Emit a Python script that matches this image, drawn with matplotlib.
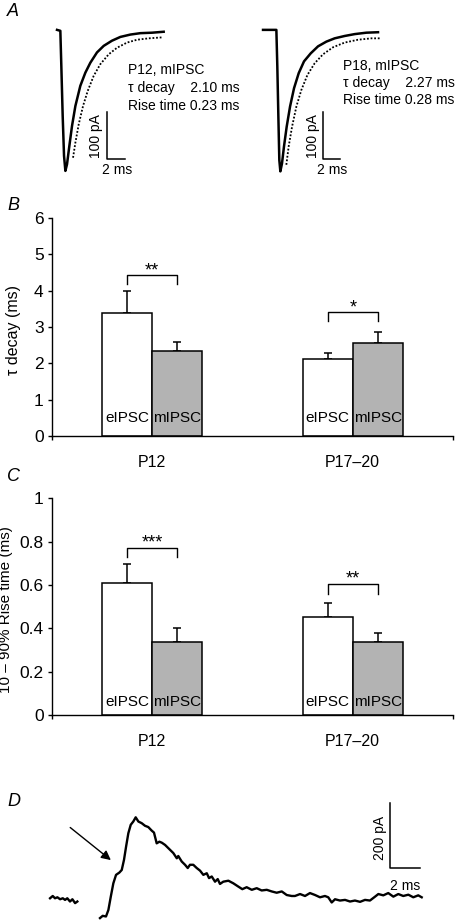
import matplotlib
matplotlib.use("Agg")
import matplotlib.pyplot as plt

plt.rcParams['font.family'] = ['Liberation Sans', 'DejaVu Sans']

W, H = 458, 922

# ---- panel A: averaged mIPSC traces (ms, pA), solid = mIPSC, dotted = eIPSC
p12_t = [0, 0.37, 0.48, 0.63, 0.78, 0.93, 1.11, 1.37, 1.67, 2.04, 2.59, 3.15,
         3.70, 4.44, 5.19, 6.11, 7.04, 8.15, 9.26, 10.56, 11.85]
p12_i = [0, -2, -77, -183, -268, -300, -286, -247, -204, -162, -119, -91,
         -70, -48, -34, -23, -15, -10, -7, -6, -4]
p12_dot_t = [1.78, 2.04, 2.41, 2.89, 3.41, 4.07, 4.81, 5.74, 6.67, 7.78, 8.89, 10.19, 11.67]
p12_dot_i = [-272, -240, -201, -162, -130, -98, -73, -52, -38, -27, -21, -18, -16]

p18_t = [0, 1.54, 1.65, 1.77, 1.88, 2.0, 2.19, 2.42, 2.73, 3.12, 3.58, 4.12,
         4.73, 5.5, 6.35, 7.31, 8.27, 9.42, 10.58, 11.92, 13.27]
p18_i = [0, 0, -78, -184, -277, -301, -284, -248, -206, -163, -124, -92,
         -67, -50, -35, -25, -18, -13, -9, -6, -5]
p18_dot_t = [2.69, 2.96, 3.35, 3.85, 4.42, 5.12, 5.96, 6.92, 8.08, 9.42, 10.96, 12.5, 13.65]
p18_dot_i = [-287, -248, -206, -163, -128, -96, -71, -52, -37, -27, -21, -18, -18]

p12_info = ["P12, mIPSC", "\u03c4 decay    2.10 ms", "Rise time 0.23 ms"]
p18_info = ["P18, mIPSC", "\u03c4 decay    2.27 ms", "Rise time 0.28 ms"]

# ---- panels B and C: bar data
groups = ["P12", "P17\u201320"]
decay_e = [3.38, 2.12]
decay_e_err = [0.62, 0.16]
decay_m = [2.35, 2.57]
decay_m_err = [0.25, 0.29]
decay_sig = ["**", "*"]
decay_sig_y = [4.43, 3.40]

rise_e = [0.61, 0.45]
rise_e_err = [0.085, 0.066]
rise_m = [0.337, 0.337]
rise_m_err = [0.063, 0.04]
rise_sig = ["***", "**"]
rise_sig_y = [0.772, 0.605]

# ---- panel D: single eIPSC trace (ms, pA)
d_t1 = [0.00, 0.18, 0.33, 0.49, 0.67, 0.85, 1.00, 1.15, 1.33, 1.49, 1.67, 1.82]
d_i1 = [5, 12, 5, 8, 2, 5, 0, 5, -5, 2, -10, -5]
d_t2 = [3.33, 3.51, 3.73, 3.89, 4.05, 4.22, 4.40, 4.62, 4.78, 4.93, 5.07, 5.22,
        5.38, 5.55, 5.71, 5.89, 6.11, 6.33, 6.55, 6.78, 6.93, 7.11, 7.29, 7.45,
        7.67, 7.89, 8.22, 8.45, 8.55, 8.78, 9.00, 9.18, 9.33, 9.55, 9.78, 10.00,
        10.22, 10.45, 10.60, 10.78, 11.00, 11.18, 11.33, 11.55, 11.89, 12.22, 12.55,
        12.82, 13.11, 13.45, 13.78, 14.11, 14.45, 14.78, 15.11, 15.45, 15.78, 16.11,
        16.33, 16.67, 17.00, 17.33, 17.67, 18.00, 18.33, 18.55, 18.78, 19.00, 19.33,
        19.67, 20.00, 20.33, 20.67, 21.00, 21.33, 21.67, 21.89, 22.22, 22.55, 22.89,
        23.22, 23.55, 23.89, 24.22, 24.55, 24.78]
d_i2 = [-56, -49, -51, -31, 10, 51, 77, 84, 92, 123, 164, 205,
        231, 241, 254, 241, 236, 228, 224, 213, 207, 174, 179, 176,
        169, 159, 144, 128, 135, 118, 108, 98, 108, 108, 98, 90,
        77, 82, 67, 72, 56, 64, 49, 56, 59, 51, 41,
        33, 39, 31, 36, 29, 31, 26, 22, 26, 15, 12,
        12, 18, 12, 21, 15, 8, 12, 8, -8, 2, -2,
        0, -5, -2, -6, 0, -2, 10, 18, 14, 21, 10,
        18, 12, 16, 8, 14, 8]


def rect(x0, y0, x1, y1):
    return [x0 / W, 1 - y1 / H, (x1 - x0) / W, (y1 - y0) / H]


fig = plt.figure(figsize=(W / 100, H / 100), dpi=100)


def trace_panel(box, xlim, t, i, dt, di, info, bar_x, text_x, text_y):
    ax = fig.add_axes(rect(*box))
    ax.plot(t, i, color='black', lw=1.8)
    ax.plot(dt, di, color='black', lw=1.3, ls=(0, (1, 1)))
    # scale bar 100 pA / 2 ms
    ax.plot([bar_x, bar_x, bar_x + 2], [-175, -275, -275], color='black', lw=1.1)
    ax.text(bar_x - 1.2, -225, "100 pA", rotation=90, ha='center', va='center', fontsize=10)
    ax.text(bar_x + 1.1, -299, "2 ms", ha='center', va='center', fontsize=10)
    for k, s in enumerate(info):
        ax.text(text_x, text_y[k], s, ha='left', va='center', fontsize=10)
    ax.set_xlim(xlim)
    ax.set_ylim(-330, 21)
    ax.axis('off')


trace_panel((40, 20, 240, 185), (-1.89, 20.33), p12_t, p12_i, p12_dot_t, p12_dot_i,
            p12_info, 5.56, 7.89, [-86, -123, -161])
trace_panel((245, 20, 445, 185), (-2.08, 21.0), p18_t, p18_i, p18_dot_t, p18_dot_i,
            p18_info, 6.92, 9.23, [-76, -113, -149])


def bar_panel(box, e, e_err, m, m_err, sig, sig_y, leg, ylim, yticks, yticklabels,
              ylabel, lab_y, ylab_x, ylab_y, ylab_size):
    ax = fig.add_axes(rect(*box))
    xc = [1, 3]
    xe = [x - 0.25 for x in xc]
    xm = [x + 0.25 for x in xc]
    ax.bar(xe, e, width=0.5, color='white', edgecolor='black', lw=1.1, zorder=2)
    ax.bar(xm, m, width=0.5, color='#b3b3b3', edgecolor='black', lw=1.1, zorder=2)
    ax.errorbar(xe, e, yerr=[[0, 0], e_err], fmt='none', ecolor='black', elinewidth=1.1,
                capsize=3, capthick=1.1, zorder=1)
    ax.errorbar(xm, m, yerr=[[0, 0], m_err], fmt='none', ecolor='black', elinewidth=1.1,
                capsize=3, capthick=1.1, zorder=1)
    for k in range(2):
        ax.plot([xe[k], xe[k], xm[k], xm[k]],
                [sig_y[k] - leg, sig_y[k], sig_y[k], sig_y[k] - leg], color='black', lw=1.0)
        ax.text(xc[k], sig_y[k], sig[k], ha='center', va='baseline', fontsize=13)
        ax.text(xe[k], lab_y, "eIPSC", ha='center', va='center', fontsize=11, zorder=3)
        ax.text(xm[k], lab_y, "mIPSC", ha='center', va='center', fontsize=11, zorder=3)
    ax.set_xlim(0, 4)
    ax.set_ylim(ylim)
    ax.set_yticks(yticks)
    ax.set_yticklabels(yticklabels, fontsize=12.5)
    ax.set_xticks(xc)
    ax.set_xticklabels(groups, fontsize=11.5)
    ax.set_xticks([0, 4], minor=True)
    ax.tick_params(axis='x', which='major', length=0, pad=13.5)
    ax.tick_params(axis='x', which='minor', length=3, width=1, direction='out')
    ax.tick_params(axis='y', length=3, width=1, pad=3)
    for s in ['top', 'right']:
        ax.spines[s].set_visible(False)
    for s in ['left', 'bottom']:
        ax.spines[s].set_linewidth(1.0)
    ax.set_ylabel(ylabel, fontsize=ylab_size)
    ax.yaxis.set_label_coords(ylab_x, ylab_y)
    return ax


bar_panel((52, 218, 453, 436), decay_e, decay_e_err, decay_m, decay_m_err, decay_sig,
          decay_sig_y, 0.24, (0, 6), range(7), [str(v) for v in range(7)],
          "\u03c4 decay (ms)", 0.5, -0.077, 0.486, 11.5)
bar_panel((52, 498.3, 453, 715), rise_e, rise_e_err, rise_m, rise_m_err, rise_sig,
          rise_sig_y, 0.045, (0, 1), [0, 0.2, 0.4, 0.6, 0.8, 1],
          ["0", "0.2", "0.4", "0.6", "0.8", "1"],
          "10 \u2013 90% Rise time (ms)", 0.061, -0.097, 0.485, 11)

# ---- panel D
axd = fig.add_axes(rect(40, 790, 440, 922))
axd.plot(d_t1, d_i1, color='black', lw=1.7)
axd.plot(d_t2, d_i2, color='black', lw=1.7)
axd.plot([22.67, 22.67, 24.67], [298, 98, 98], color='black', lw=1.1)
axd.text(22.0, 190, "200 pA", rotation=90, ha='center', va='center', fontsize=10)
axd.text(23.67, 43, "2 ms", ha='center', va='center', fontsize=10)
axd.annotate("", xy=(4.2, 117), xytext=(1.2, 228),
             arrowprops=dict(arrowstyle='-|>', color='black', lw=1.0, mutation_scale=14))
axd.set_xlim(-0.67, 26)
axd.set_ylim(-68, 338)
axd.axis('off')

for lab, x, y in [("A", 13, 11), ("B", 13, 205), ("C", 14, 476), ("D", 14, 801)]:
    fig.text(x / W, 1 - y / H, lab, ha='center', va='center', style='italic', fontsize=13)

fig.savefig("out.png", dpi=100)
